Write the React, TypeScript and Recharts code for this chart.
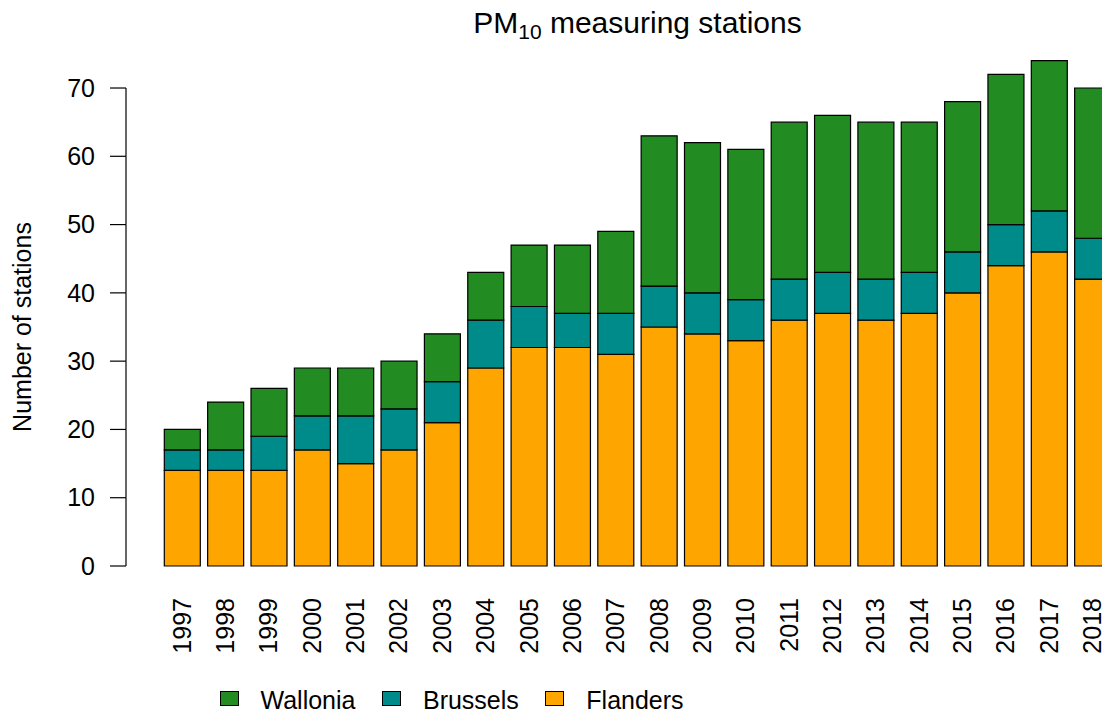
import { BarChart, Bar, XAxis, YAxis, Legend, Customized } from 'recharts';

const years = ['1997', '1998', '1999', '2000', '2001', '2002', '2003', '2004', '2005', '2006', '2007',
  '2008', '2009', '2010', '2011', '2012', '2013', '2014', '2015', '2016', '2017', '2018'];
const flanders = [14, 14, 14, 17, 15, 17, 21, 29, 32, 32, 31, 35, 34, 33, 36, 37, 36, 37, 40, 44, 46, 42];
const brussels = [3, 3, 5, 5, 7, 6, 6, 7, 6, 5, 6, 6, 6, 6, 6, 6, 6, 6, 6, 6, 6, 6];
const wallonia = [3, 7, 7, 7, 7, 7, 7, 7, 9, 10, 12, 22, 22, 22, 23, 23, 23, 22, 22, 22, 22, 22];
const yTicks = [0, 10, 20, 30, 40, 50, 60, 70];

const colFlanders = '#FFA500';
const colBrussels = '#008B8B';
const colWallonia = '#228B22';

const data = years.map((year, i) => ({
  year,
  Flanders: flanders[i],
  Brussels: brussels[i],
  Wallonia: wallonia[i],
}));

const legendItems = [
  { name: 'Wallonia', color: colWallonia },
  { name: 'Brussels', color: colBrussels },
  { name: 'Flanders', color: colFlanders },
];

const font = '"Liberation Sans", Arial, Helvetica, sans-serif';
const W = 1130;
const H = 709;
const margin = { top: 60.7, right: 16, left: 0, bottom: 0 };
const xAxisHeight = 143;
const yMax = 74;
const plotH = H - margin.top - margin.bottom - xAxisHeight;
const topTick = yTicks[yTicks.length - 1];

// R draws the axis line only between the first and last tick
const YTick = ({ x, y, payload }) => {
  const axisX = x + 31;
  const seg = payload.value < topTick ? (plotH * 10) / yMax : 0;
  return (
    <g>
      {seg > 0 && <line x1={axisX} x2={axisX} y1={y} y2={y - seg} stroke="#000" strokeWidth={1.2} />}
      <text x={x} y={y} dy="0.35em" textAnchor="end" fontSize={25} fontFamily={font} fill="#000">
        {payload.value}
      </text>
    </g>
  );
};

const XTick = ({ x, y, payload }) => (
  <text
    x={x}
    y={y}
    dy="0.35em"
    textAnchor="end"
    transform={`rotate(-90, ${x}, ${y})`}
    fontSize={25}
    fontFamily={font}
    fill="#000"
  >
    {payload.value}
  </text>
);

const Titles = () => (
  <g>
    <text x={637.5} y={33} textAnchor="middle" fontSize={30} fontFamily={font} fill="#000">
      PM<tspan fontSize={21} dy={6}>10</tspan>
      <tspan dy={-6}>{' measuring stations'}</tspan>
    </text>
    <text
      x={31}
      y={327}
      transform="rotate(-90, 31, 327)"
      textAnchor="middle"
      fontSize={25}
      fontFamily={font}
      fill="#000"
    >
      Number of stations
    </text>
  </g>
);

const LegendContent = () => (
  <div
    style={{
      display: 'flex',
      alignItems: 'center',
      fontFamily: font,
      fontSize: 25,
      lineHeight: '30px',
      whiteSpace: 'nowrap',
      color: '#000',
    }}
  >
    {legendItems.map((it) => (
      <div key={it.name} style={{ display: 'flex', alignItems: 'center', marginRight: 26.5 }}>
        <span
          style={{
            display: 'inline-block',
            width: 17,
            height: 13,
            border: '1px solid #000',
            background: it.color,
            marginRight: 22,
            position: 'relative',
            top: -1,
          }}
        />
        <span>{it.name}</span>
      </div>
    ))}
  </div>
);

export default function App() {
  return (
    <div style={{ position: 'absolute', left: 0, top: 0, width: 1102, height: 709, overflow: 'hidden', background: '#fff' }}>
      <BarChart width={W} height={H} data={data} margin={margin}>
        <XAxis
          dataKey="year"
          type="category"
          height={xAxisHeight}
          padding={{ left: 34.3, right: 0 }}
          axisLine={false}
          tickLine={false}
          tickSize={0}
          tickMargin={32}
          interval={0}
          tick={XTick}
        />
        <YAxis
          type="number"
          domain={[0, yMax]}
          ticks={yTicks}
          width={126}
          axisLine={false}
          tickLine={{ stroke: '#000', strokeWidth: 1.2 }}
          tickSize={16}
          tickMargin={15}
          interval={0}
          tick={YTick}
        />
        <Bar dataKey="Flanders" stackId="a" fill={colFlanders} stroke="#000" strokeWidth={1.2} barSize={36} isAnimationActive={false} />
        <Bar dataKey="Brussels" stackId="a" fill={colBrussels} stroke="#000" strokeWidth={1.2} barSize={36} isAnimationActive={false} />
        <Bar dataKey="Wallonia" stackId="a" fill={colWallonia} stroke="#000" strokeWidth={1.2} barSize={36} isAnimationActive={false} />
        <Customized component={Titles} />
        <Legend
          layout="horizontal"
          verticalAlign="middle"
          align="center"
          wrapperStyle={{ top: 684.5, left: 219.5, width: 'auto', height: 30 }}
          content={LegendContent}
        />
      </BarChart>
    </div>
  );
}
